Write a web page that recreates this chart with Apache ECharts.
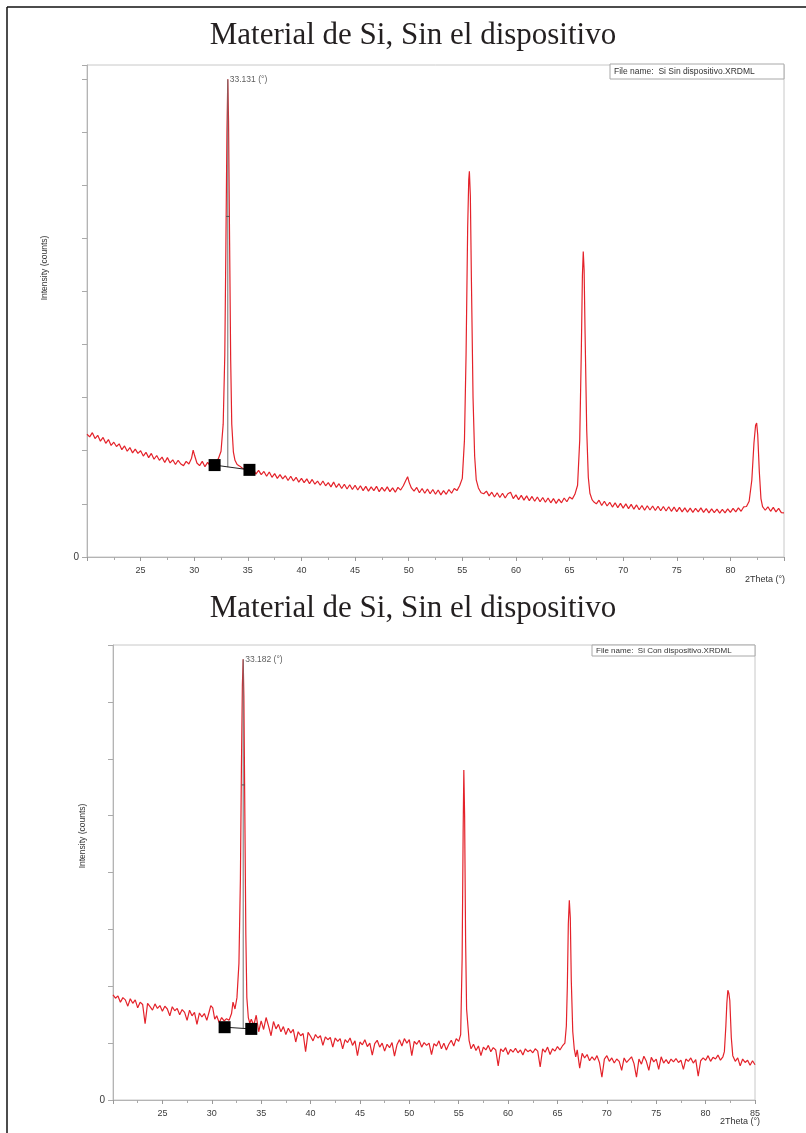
<!DOCTYPE html>
<html>
<head>
<meta charset="utf-8">
<script src="https://cdn.jsdelivr.net/npm/echarts@6/dist/echarts.min.js"></script>
<style>
html,body{margin:0;padding:0;background:#fff;}
#chart{width:806px;height:1133px;}
</style>
</head>
<body>
<div id="chart"></div>
<script>
// ---------- DATA ----------
const chartTitles = ['Material de Si, Sin el dispositivo', 'Material de Si, Sin el dispositivo'];
const fileNames = ['File name:  Si Sin dispositivo.XRDML', 'File name:  Si Con dispositivo.XRDML'];
const xTicks = [20, 85, 5];            // min, max, step (2Theta)
const peakLabels = ['33.131 (°)', '33.182 (°)'];
const peakSin = [33.131, 8990];
const peakCon = [33.182, 7750];
const baseSin = [[31.9, 1730], [35.15, 1640]];
const baseCon = [[31.3, 1280], [34.0, 1250]];
const fwhmMarkSin = [[32.98, 6410], [33.28, 6410]];
const fwhmMarkCon = [[33.03, 5540], [33.33, 5540]];
const peakFootSin = 1690;
const peakFootCon = 1265;

const scanSin = [
[20.0,2310],[20.25,2260],[20.5,2340],[20.75,2230],[21.0,2290],[21.25,2180],[21.5,2250],[21.75,2140],[22.0,2210],[22.25,2100],
[22.5,2160],[22.75,2080],[23.0,2130],[23.25,2020],[23.5,2090],[23.75,1990],[24.0,2060],[24.25,1960],[24.5,2030],[24.75,1950],
[25.0,2000],[25.25,1900],[25.5,1970],[25.75,1870],[26.0,1950],[26.25,1840],[26.5,1910],[26.75,1820],[27.0,1880],[27.25,1780],
[27.5,1870],[27.75,1770],[28.0,1830],[28.25,1740],[28.5,1820],[28.75,1750],[29.0,1720],[29.25,1800],[29.5,1750],[29.75,1860],
[29.9,2010],[30.05,1900],[30.25,1770],[30.5,1720],[30.75,1800],[31.0,1700],[31.25,1780],[31.5,1710],[31.75,1760],[32.0,1790],
[32.25,1850],[32.5,1990],[32.7,2500],[32.85,3800],[32.95,5800],[33.05,8000],[33.13,8990],[33.2,8200],[33.3,5900],[33.4,3700],
[33.5,2500],[33.65,1980],[33.8,1820],[34.0,1740],[34.25,1710],[34.5,1670],[34.75,1660],[35.0,1690],[35.25,1590],[35.5,1660],
[35.75,1560],[36.0,1630],[36.25,1550],[36.5,1610],[36.75,1520],[37.0,1600],[37.25,1500],[37.5,1570],[37.75,1480],[38.0,1550],
[38.25,1470],[38.5,1530],[38.75,1440],[39.0,1520],[39.25,1430],[39.5,1500],[39.75,1410],[40.0,1480],[40.25,1400],[40.5,1470],
[40.75,1380],[41.0,1460],[41.25,1370],[41.5,1430],[41.75,1350],[42.0,1430],[42.25,1340],[42.5,1400],[42.75,1320],[43.0,1410],
[43.25,1310],[43.5,1380],[43.75,1290],[44.0,1370],[44.25,1280],[44.5,1360],[44.75,1270],[45.0,1350],[45.25,1260],[45.5,1340],
[45.75,1250],[46.0,1330],[46.25,1240],[46.5,1320],[46.75,1250],[47.0,1330],[47.25,1230],[47.5,1310],[47.75,1240],[48.0,1320],
[48.25,1230],[48.5,1300],[48.75,1220],[49.0,1310],[49.25,1260],[49.5,1340],[49.75,1450],[49.9,1510],[50.05,1400],[50.25,1300],
[50.5,1240],[50.75,1310],[51.0,1210],[51.25,1290],[51.5,1200],[51.75,1280],[52.0,1190],[52.25,1270],[52.5,1180],[52.75,1260],
[53.0,1170],[53.25,1250],[53.5,1180],[53.75,1270],[54.0,1200],[54.25,1290],[54.5,1250],[54.75,1340],[55.0,1480],[55.2,2200],
[55.35,3800],[55.5,6200],[55.6,7100],[55.66,7260],[55.75,6800],[55.85,5200],[56.0,3000],[56.15,1900],[56.3,1450],[56.5,1300],
[56.75,1210],[57.0,1190],[57.25,1240],[57.5,1150],[57.75,1220],[58.0,1130],[58.25,1210],[58.5,1120],[58.75,1200],[59.0,1110],
[59.25,1190],[59.5,1220],[59.75,1100],[60.0,1170],[60.25,1080],[60.5,1160],[60.75,1070],[61.0,1150],[61.25,1060],[61.5,1140],
[61.75,1050],[62.0,1130],[62.25,1040],[62.5,1120],[62.75,1030],[63.0,1110],[63.25,1020],[63.5,1100],[63.75,1010],[64.0,1090],
[64.25,1020],[64.5,1110],[64.75,1040],[65.0,1130],[65.25,1090],[65.5,1180],[65.75,1350],[65.95,2200],[66.1,3900],[66.2,5300],
[66.28,5750],[66.36,5400],[66.45,4200],[66.6,2400],[66.75,1500],[66.9,1200],[67.1,1080],[67.25,1040],[67.5,1000],[67.75,1070],
[68.0,970],[68.25,1050],[68.5,960],[68.75,1030],[69.0,940],[69.25,1020],[69.5,930],[69.75,1010],[70.0,920],[70.25,1000],
[70.5,910],[70.75,990],[71.0,900],[71.25,980],[71.5,890],[71.75,970],[72.0,880],[72.25,965],[72.5,885],[72.75,960],
[73.0,875],[73.25,955],[73.5,870],[73.75,950],[74.0,865],[74.25,945],[74.5,860],[74.75,940],[75.0,855],[75.25,935],
[75.5,850],[75.75,925],[76.0,845],[76.25,920],[76.5,840],[76.75,915],[77.0,850],[77.25,925],[77.5,840],[77.75,910],
[78.0,830],[78.25,905],[78.5,835],[78.75,900],[79.0,825],[79.25,895],[79.5,830],[79.75,905],[80.0,840],[80.25,915],
[80.5,850],[80.75,925],[81.0,860],[81.25,945],[81.5,950],[81.75,1050],[82.0,1450],[82.2,2150],[82.35,2480],[82.45,2520],
[82.55,2300],[82.7,1600],[82.85,1100],[83.0,950],[83.25,880],[83.5,945],[83.75,860],[84.0,935],[84.25,850],[84.5,915],
[84.75,835],[85.0,830]
];

const scanCon = [
[20.0,1850],[20.25,1790],[20.5,1830],[20.75,1720],[21.0,1800],[21.25,1760],[21.5,1650],[21.75,1780],[22.0,1700],[22.25,1760],
[22.5,1620],[22.75,1720],[23.0,1680],[23.25,1340],[23.5,1700],[23.75,1640],[24.0,1580],[24.25,1690],[24.5,1610],[24.75,1660],
[25.0,1560],[25.25,1650],[25.5,1600],[25.75,1480],[26.0,1640],[26.25,1570],[26.5,1610],[26.75,1500],[27.0,1590],[27.25,1540],
[27.5,1400],[27.75,1580],[28.0,1480],[28.25,1540],[28.5,1330],[28.75,1530],[29.0,1460],[29.25,1520],[29.5,1400],[29.75,1560],
[29.9,1660],[30.1,1620],[30.3,1420],[30.5,1480],[30.75,1360],[31.0,1450],[31.25,1390],[31.5,1430],[31.75,1400],[32.0,1520],
[32.15,1720],[32.35,1600],[32.55,1800],[32.75,2400],[32.9,3900],[33.0,5800],[33.1,7300],[33.18,7750],[33.25,7100],[33.35,5000],
[33.45,2900],[33.55,1800],[33.7,1450],[33.85,1350],[34.0,1420],[34.25,1310],[34.5,1490],[34.75,1200],[35.0,1390],[35.25,1240],
[35.5,1450],[35.75,1300],[36.0,1130],[36.25,1380],[36.5,1250],[36.75,1330],[37.0,1200],[37.25,1290],[37.5,1150],[37.75,1260],
[38.0,1180],[38.25,1240],[38.5,1020],[38.75,1200],[39.0,1130],[39.25,1170],[39.5,850],[39.75,1190],[40.0,1120],[40.25,1040],
[40.5,1150],[40.75,1090],[41.0,1130],[41.25,960],[41.5,1110],[41.75,1060],[42.0,1100],[42.25,930],[42.5,1090],[42.75,1030],
[43.0,1080],[43.25,900],[43.5,1060],[43.75,1010],[44.0,1090],[44.25,960],[44.5,1040],[44.75,780],[45.0,1020],[45.25,970],
[45.5,1060],[45.75,940],[46.0,1000],[46.25,790],[46.5,990],[46.75,1050],[47.0,930],[47.25,1000],[47.5,860],[47.75,980],
[48.0,920],[48.25,1010],[48.5,770],[48.75,970],[49.0,1060],[49.25,950],[49.5,1080],[49.75,1000],[50.0,1060],[50.25,780],
[50.5,1030],[50.75,980],[51.0,1050],[51.25,930],[51.5,1010],[51.75,960],[52.0,1000],[52.25,800],[52.5,990],[52.75,950],
[53.0,1040],[53.25,900],[53.5,1000],[53.75,880],[54.0,980],[54.25,1050],[54.5,950],[54.75,1080],[55.0,1030],[55.2,1150],
[55.35,2500],[55.45,4700],[55.52,5800],[55.6,5000],[55.7,2800],[55.8,1600],[55.9,1380],[56.05,1050],[56.25,900],[56.5,980],
[56.75,870],[57.0,950],[57.25,780],[57.5,930],[57.75,880],[58.0,960],[58.25,850],[58.5,920],[58.75,880],[59.0,600],
[59.25,900],[59.5,850],[59.75,920],[60.0,800],[60.25,890],[60.5,840],[60.75,910],[61.0,830],[61.25,880],[61.5,790],
[61.75,900],[62.0,850],[62.25,880],[62.5,830],[62.75,900],[63.0,860],[63.25,580],[63.5,900],[63.75,840],[64.0,930],
[64.25,800],[64.5,900],[64.75,860],[65.0,940],[65.25,880],[65.5,950],[65.75,1000],[65.9,1300],[66.0,2000],[66.1,3100],
[66.2,3510],[66.3,3200],[66.4,2100],[66.55,1200],[66.7,900],[66.85,760],[67.0,880],[67.25,560],[67.5,820],[67.75,740],
[68.0,800],[68.25,690],[68.5,760],[68.75,700],[69.0,780],[69.25,660],[69.5,400],[69.75,720],[70.0,780],[70.25,680],
[70.5,740],[70.75,650],[71.0,720],[71.25,680],[71.5,520],[71.75,740],[72.0,660],[72.25,710],[72.5,760],[72.75,640],
[73.0,400],[73.25,720],[73.5,630],[73.75,770],[74.0,680],[74.25,520],[74.5,750],[74.75,670],[75.0,720],[75.25,540],
[75.5,760],[75.75,650],[76.0,710],[76.25,640],[76.5,720],[76.75,670],[77.0,730],[77.25,660],[77.5,700],[77.75,540],
[78.0,720],[78.25,680],[78.5,740],[78.75,650],[79.0,710],[79.25,420],[79.5,690],[79.75,740],[80.0,700],[80.25,780],
[80.5,680],[80.75,750],[81.0,720],[81.25,790],[81.5,700],[81.75,760],[81.9,850],[82.05,1300],[82.15,1700],[82.25,1930],
[82.35,1880],[82.45,1750],[82.6,1100],[82.75,780],[83.0,680],[83.25,740],[83.5,600],[83.75,720],[84.0,660],[84.25,700],
[84.5,610],[84.75,690],[85.0,620]
];

// ---------- CHART ----------
const chart = echarts.init(document.getElementById('chart'), null, {renderer: 'canvas'});
const axisGrey = '#b4b4b4';
const labelColor = '#3a3a3a';
const sans = 'Liberation Sans, Arial, sans-serif';
const serif = 'Liberation Serif, Times New Roman, serif';
const red = '#e4222a';

function xAxisFor(gridIndex, showMax) {
  return {
    type: 'value', gridIndex: gridIndex, min: xTicks[0], max: xTicks[1], interval: xTicks[2],
    axisLine: {lineStyle: {color: axisGrey, width: 1}},
    axisTick: {show: true, length: 4, lineStyle: {color: '#999'}},
    minorTick: {show: true, splitNumber: 2, length: 3, lineStyle: {color: '#aaa'}},
    axisLabel: {showMinLabel: false, showMaxLabel: showMax, color: labelColor, fontSize: 9, fontFamily: sans, margin: 9},
    splitLine: {show: false}
  };
}
function yAxisFor(gridIndex, max) {
  return {
    type: 'value', gridIndex: gridIndex, min: 0, max: max, interval: 1000,
    axisLine: {show: true, lineStyle: {color: axisGrey, width: 1}},
    axisTick: {show: true, length: 5, lineStyle: {color: '#aaa'}},
    axisLabel: {color: labelColor, fontSize: 10, fontFamily: sans, margin: 8,
      formatter: v => (v === 0 ? '0' : '')},
    splitLine: {show: false}
  };
}
function peakSeries(idx, scan, peak, label, base, fwhm, foot) {
  return [
    {type: 'line', xAxisIndex: idx, yAxisIndex: idx, data: scan, showSymbol: false, symbol: 'none',
     lineStyle: {color: red, width: 1.2}, z: 3, animation: false},
    {type: 'line', xAxisIndex: idx, yAxisIndex: idx, data: [[peak[0], foot], peak], symbol: 'none',
     lineStyle: {color: '#6e6e6e', width: 1}, z: 4, animation: false},
    {type: 'line', xAxisIndex: idx, yAxisIndex: idx, data: fwhm, symbol: 'none',
     lineStyle: {color: '#555', width: 1}, z: 4, animation: false},
    {type: 'line', xAxisIndex: idx, yAxisIndex: idx, data: base, symbol: 'rect', symbolSize: 12,
     itemStyle: {color: '#000'}, lineStyle: {color: '#222', width: 1}, z: 5, animation: false},
    {type: 'scatter', xAxisIndex: idx, yAxisIndex: idx, data: [peak], symbolSize: 0, z: 6, animation: false,
     label: {show: true, position: [2, -4], formatter: label, color: '#333', fontSize: 8.5, fontFamily: sans}}
  ];
}

const option = {
  backgroundColor: '#fff',
  animation: false,
  grid: [
    {left: 87, top: 65, width: 697, height: 492, show: true, borderColor: '#c8c8c8', borderWidth: 1, containLabel: false},
    {left: 113, top: 645, width: 642, height: 455, show: true, borderColor: '#c8c8c8', borderWidth: 1, containLabel: false}
  ],
  xAxis: [xAxisFor(0, false), xAxisFor(1, true)],
  yAxis: [yAxisFor(0, 9260), yAxisFor(1, 8000)],
  series: [].concat(
    peakSeries(0, scanSin, peakSin, peakLabels[0], baseSin, fwhmMarkSin, peakFootSin),
    peakSeries(1, scanCon, peakCon, peakLabels[1], baseCon, fwhmMarkCon, peakFootCon)
  ),
  graphic: [
    // outer frame
    {type: 'line', shape: {x1: 7, y1: 7, x2: 806, y2: 7}, style: {stroke: '#111', lineWidth: 1.5}},
    {type: 'line', shape: {x1: 7, y1: 7, x2: 7, y2: 1133}, style: {stroke: '#111', lineWidth: 1.5}},
    // titles
    {type: 'text', x: 413, y: 36, style: {text: chartTitles[0], font: '31px ' + serif, fill: '#231f20', textAlign: 'center', textVerticalAlign: 'middle'}},
    {type: 'text', x: 413, y: 609, style: {text: chartTitles[1], font: '31px ' + serif, fill: '#231f20', textAlign: 'center', textVerticalAlign: 'middle'}},
    // file name boxes
    {type: 'rect', shape: {x: 610, y: 64, width: 174, height: 15}, style: {fill: '#fff', stroke: '#a8a8a8', lineWidth: 1}, z: 10},
    {type: 'text', x: 614, y: 71.5, z: 11, style: {text: fileNames[0], font: '8.5px ' + sans, fill: '#333', textVerticalAlign: 'middle'}},
    {type: 'rect', shape: {x: 592, y: 645, width: 163, height: 11}, style: {fill: '#fff', stroke: '#a8a8a8', lineWidth: 1}, z: 10},
    {type: 'text', x: 596, y: 650.5, z: 11, style: {text: fileNames[1], font: '8px ' + sans, fill: '#333', textVerticalAlign: 'middle'}},
    // y axis names
    {type: 'text', x: 45, y: 268, rotation: Math.PI / 2, style: {text: 'Intensity (counts)', font: '8.5px ' + sans, fill: '#333', textAlign: 'center', textVerticalAlign: 'middle'}},
    {type: 'text', x: 83, y: 836, rotation: Math.PI / 2, style: {text: 'Intensity (counts)', font: '8.5px ' + sans, fill: '#333', textAlign: 'center', textVerticalAlign: 'middle'}},
    // x axis names
    {type: 'text', x: 785, y: 580, style: {text: '2Theta (°)', font: '9px ' + sans, fill: '#333', textAlign: 'right', textVerticalAlign: 'middle'}},
    {type: 'text', x: 760, y: 1122, style: {text: '2Theta (°)', font: '9px ' + sans, fill: '#333', textAlign: 'right', textVerticalAlign: 'middle'}}
  ]
};
chart.setOption(option);
</script>
</body>
</html>
